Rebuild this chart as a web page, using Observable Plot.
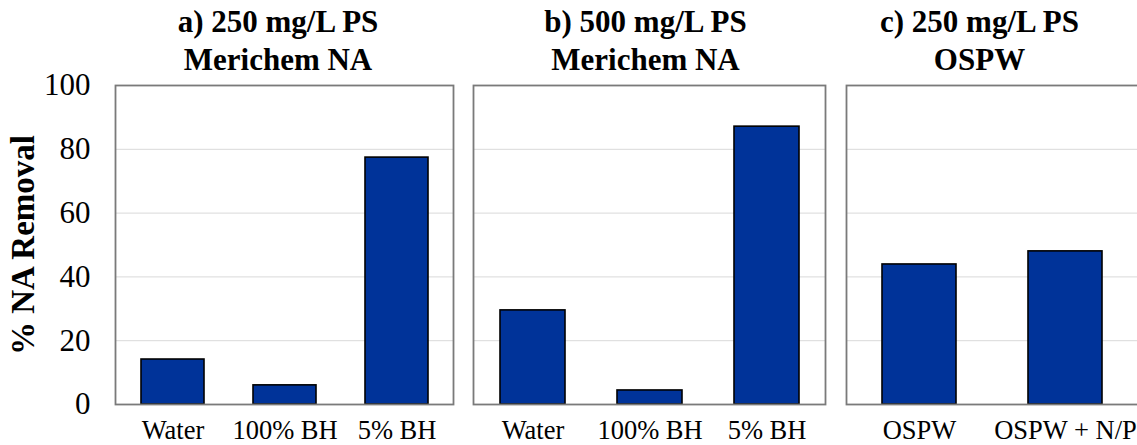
<!DOCTYPE html>
<html>
<head>
<meta charset="utf-8">
<script src="https://cdn.jsdelivr.net/npm/d3@7"></script>
<script src="https://cdn.jsdelivr.net/npm/@observablehq/plot@0.6"></script>
<style>
  html, body { margin: 0; padding: 0; background: #fff; overflow: hidden; }
  #chart { position: relative; width: 1137px; height: 445px; overflow: hidden;
           font-family: "Liberation Serif", "Times New Roman", serif; }
  .panel { position: absolute; top: 0; }
  .title { position: absolute; top: 3px; transform: translateX(-50%); text-align: center;
           font-weight: bold; font-size: 31px; line-height: 38px; white-space: nowrap; color: #000; }
  [aria-label="y-axis label"] { font-weight: bold; font-size: 33px; }
</style>
</head>
<body>
<div id="chart"></div>
<script>
// Percent naphthenic-acid removal per treatment
const catsA = ["Water", "100% BH", "5% BH"];
const valsA = [14.1, 6.0, 77.4];
const catsB = ["Water", "100% BH", "5% BH"];
const valsB = [29.5, 4.4, 87.1];
const catsC = ["OSPW", "OSPW + N/P"];
const valsC = [43.9, 48.0];

const titleA = ["a) 250 mg/L PS", "Merichem NA"];
const titleB = ["b) 500 mg/L PS", "Merichem NA"];
const titleC = ["c) 250 mg/L PS", "OSPW"];

const yTicks = [0, 20, 40, 60, 80, 100];
const gridTicks = [20, 40, 60, 80];
const yLabel = "% NA Removal";

const H = 445;
const fontFamily = '"Liberation Serif", "Times New Roman", serif';
const barFill = "#003399";

function panel(cats, vals, {left, width, marginLeft, marginRight, padding, showY}) {
  const data = cats.map((c, i) => ({cat: c, val: vals[i]}));
  const marks = [
    Plot.ruleY(gridTicks, {stroke: "#d9d9d9", strokeWidth: 1}),
    Plot.barY(data, {x: "cat", y: "val", fill: barFill, stroke: "#000", strokeWidth: 1.6}),
    Plot.frame({stroke: "#7a7a7a", strokeWidth: 1.8}),
    Plot.axisX({tickSize: 0, tickPadding: 16, fontSize: 26.5, label: null})
  ];
  if (showY) {
    marks.push(Plot.axisY({
      ticks: yTicks, tickSize: 0, tickPadding: 25, fontSize: 31,
      label: yLabel, labelAnchor: "center", labelArrow: "none", labelOffset: 105
    }));
  }
  const svg = Plot.plot({
    width, height: H,
    marginTop: 85, marginBottom: 41, marginLeft, marginRight,
    style: {fontFamily, color: "#000", background: "transparent"},
    x: {domain: cats, paddingInner: padding, paddingOuter: padding / 2, axis: null},
    y: {domain: [0, 100], axis: null},
    marks
  });
  svg.classList.add("panel");
  svg.style.left = left + "px";
  return svg;
}

const chart = document.getElementById("chart");
chart.append(
  panel(catsA, valsA, {left: 0, width: 463, marginLeft: 115, marginRight: 10, padding: 0.44, showY: true}),
  panel(catsB, valsB, {left: 463, width: 372, marginLeft: 10, marginRight: 10, padding: 0.445, showY: false}),
  panel(catsC, valsC, {left: 836, width: 303, marginLeft: 10, marginRight: 0, padding: 0.49, showY: false})
);

for (const [lines, cx] of [[titleA, 278], [titleB, 645.5], [titleC, 979.5]]) {
  const div = document.createElement("div");
  div.className = "title";
  div.style.left = cx + "px";
  div.innerHTML = lines.join("<br>");
  chart.append(div);
}
</script>
</body>
</html>
